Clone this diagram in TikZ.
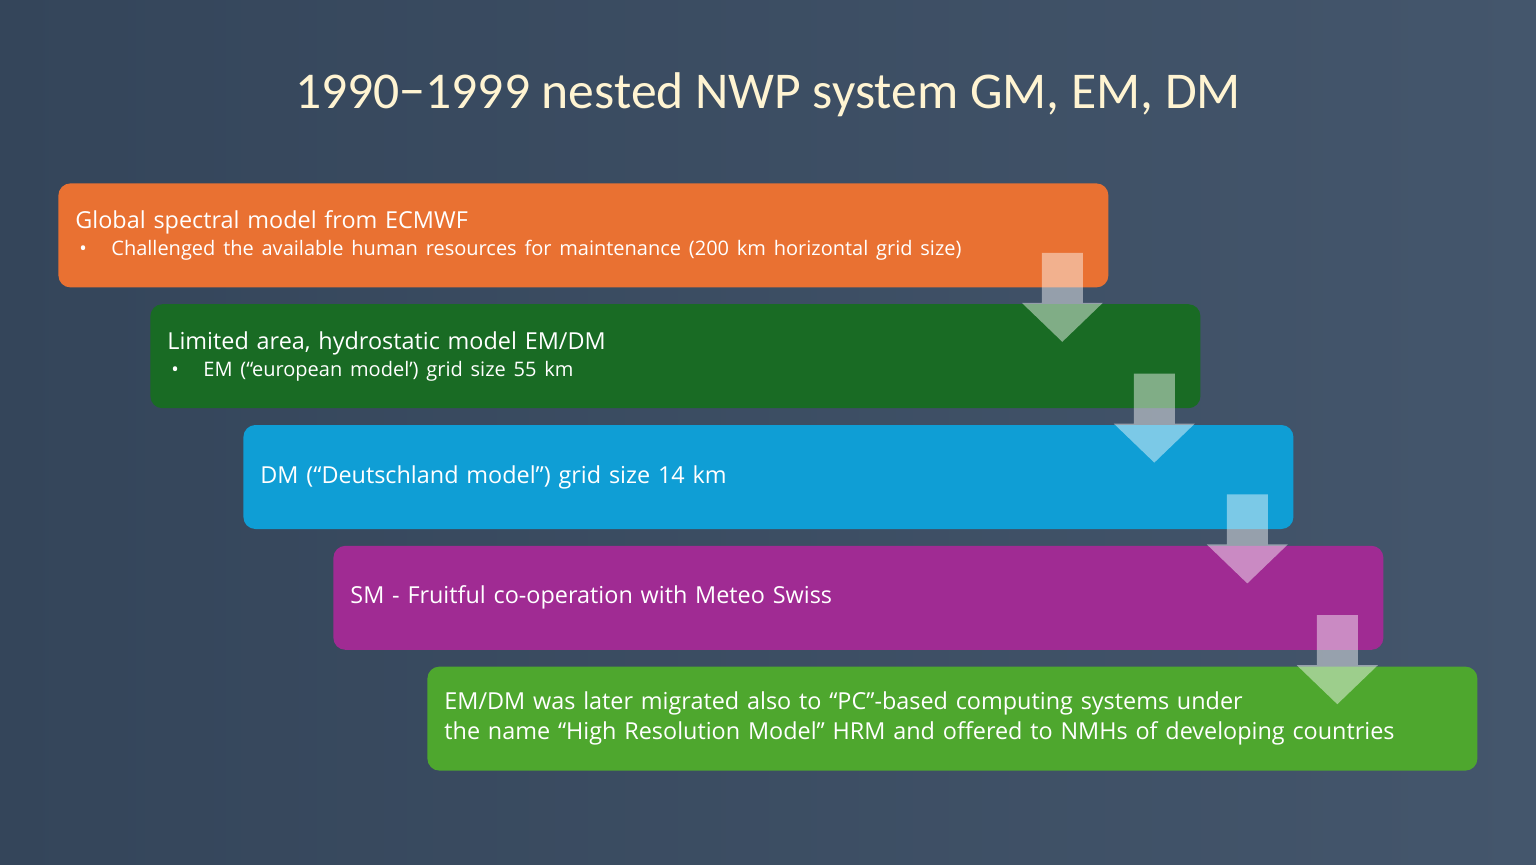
\documentclass[tikz,border=0pt]{standalone}
\usepackage{fontspec}
\setmainfont{Open Sans}
\newfontfamily\titlefont{Carlito}
\usepackage{tikz}
\usetikzlibrary{positioning, calc}
\definecolor{slatelt}{HTML}{44566C}
\definecolor{slatedk}{HTML}{34455A}
\definecolor{cream}{HTML}{FFF4D2}
\definecolor{orng}{HTML}{E97132}
\definecolor{dkgreen}{HTML}{196B24}
\definecolor{skyblue}{HTML}{0F9ED5}
\definecolor{purp}{HTML}{A02B93}
\definecolor{ltgreen}{HTML}{4EA72E}
\tikzset{
  box/.style={rounded corners=6pt, draw=none, text=white, font=\fontsize{11.7}{14.5}\selectfont,
    align=left, anchor=north west, minimum width=525pt, minimum height=52pt,
    text width=508pt, inner xsep=8.5pt, inner ysep=0pt},
  nxt/.style={below=8pt of #1.south west, anchor=north west},
  blk/.style={fill=white, fill opacity=0.45, draw=none},
  ttl/.style={text=cream, font=\titlefont\fontsize{25.8}{30}\selectfont},
}
\newcommand{\bul}{\hspace*{2pt}\makebox[16pt][l]{\textbullet}}
\newcommand{\subfs}{\fontsize{10}{14.5}\selectfont}

\begin{document}
\begin{tikzpicture}[x=0.5pt, y=-0.5pt]
  \shade[left color=slatedk, right color=slatelt] (0,0) rectangle (1536,864);
  \useasboundingbox (0,0) rectangle (1536,864);
  \node[ttl] (title) at (768,95) {1990−1999 nested NWP system GM, EM, DM};
  \node[box, fill=orng] (b1) at (58,183)
    {Global spectral model from ECMWF\\[-1pt]
     {\subfs\bul Challenged the available human resources for maintenance (200 km horizontal grid size)}};
  \node[box, fill=dkgreen, nxt=b1, xshift=46pt] (b2)
    {Limited area, hydrostatic model EM/DM\\[-1pt]
     {\subfs\bul EM (“european model’) grid size 55 km}};
  \node[box, fill=skyblue, nxt=b2, xshift=46.5pt] (b3)
    {DM (“Deutschland model”) grid size 14 km};
  \node[box, fill=purp, nxt=b3, xshift=45pt] (b4)
    {SM - Fruitful co-operation with Meteo Swiss};
  \node[box, fill=ltgreen, nxt=b4, xshift=47pt, font=\fontsize{11.7}{15}\selectfont] (b5)
    {EM/DM was later migrated also to “PC”-based computing systems under\\
     the name “High Resolution Model” HRM and offered to NMHs of developing countries};
  % down arrows between the boxes
  \foreach \u in {b1,b2,b3,b4} {
    \fill[blk] ([shift={(-67,-35)}]\u.south east) -- ([shift={(-26,-35)}]\u.south east)
      -- ([shift={(-26,15)}]\u.south east) -- ([shift={(-6,15)}]\u.south east)
      -- ([shift={(-46.5,54)}]\u.south east) -- ([shift={(-87,15)}]\u.south east)
      -- ([shift={(-67,15)}]\u.south east) -- cycle;
  }
\end{tikzpicture}
\end{document}
